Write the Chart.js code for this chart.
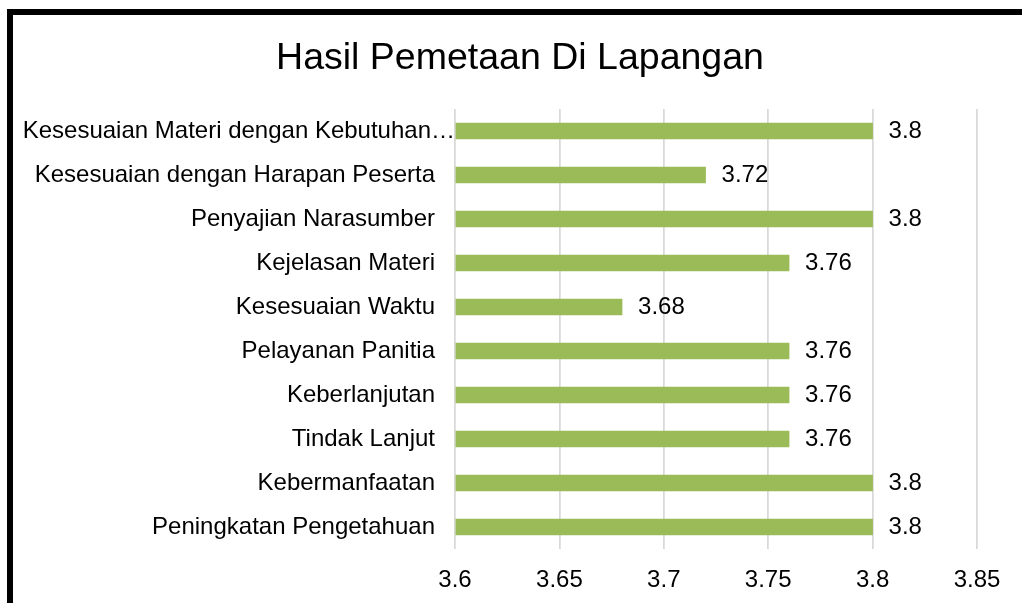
<!DOCTYPE html>
<html>
<head>
<meta charset="utf-8">
<script src="https://cdn.jsdelivr.net/npm/chart.js@4/dist/chart.umd.min.js"></script>
<style>
  html, body { margin: 0; padding: 0; background: #fff; }
  #frame { position: absolute; left: 7px; top: 9px; width: 1040px; height: 640px; border: 6px solid #000; box-sizing: border-box; }
  #c { position: absolute; left: 0; top: 0; }
</style>
</head>
<body>
<div id="frame"></div>
<canvas id="c" width="1022" height="603"></canvas>
<script>
const categories = [
  "Kesesuaian Materi dengan Kebutuhan…",
  "Kesesuaian dengan Harapan Peserta",
  "Penyajian Narasumber",
  "Kejelasan Materi",
  "Kesesuaian Waktu",
  "Pelayanan Panitia",
  "Keberlanjutan",
  "Tindak Lanjut",
  "Kebermanfaatan",
  "Peningkatan Pengetahuan"
];
const values = [3.8, 3.72, 3.8, 3.76, 3.68, 3.76, 3.76, 3.76, 3.8, 3.8];
const xTicks = [3.6, 3.65, 3.7, 3.75, 3.8, 3.85];
const chartTitle = "Hasil Pemetaan Di Lapangan";

const FONT = "'Liberation Sans', Arial, sans-serif";

const labelPlugin = {
  id: 'customLabels',
  afterDatasetsDraw(chart) {
    const ctx = chart.ctx;
    const meta = chart.getDatasetMeta(0);
    const yScale = chart.scales.y;
    const left = chart.chartArea.left;
    ctx.save();
    ctx.font = "24px " + FONT;
    ctx.fillStyle = "#000";
    ctx.textBaseline = "middle";
    ctx.textAlign = "left";
    meta.data.forEach((bar, i) => {
      ctx.fillText(String(values[i]), bar.x + 16, bar.y);
    });
    ctx.textAlign = "right";
    categories.forEach((c, i) => {
      const y = yScale.getPixelForValue(i);
      const x = c.endsWith("…") ? left : left - 20;
      ctx.fillText(c, x, y);
    });
    ctx.restore();
  }
};

new Chart(document.getElementById('c'), {
  type: 'bar',
  data: {
    labels: categories,
    datasets: [{
      data: values,
      base: 3.6,
      backgroundColor: '#9BBB59',
      borderWidth: 0,
      barThickness: 16
    }]
  },
  options: {
    indexAxis: 'y',
    responsive: false,
    animation: false,
    layout: { padding: { left: 63, right: 45, top: 0, bottom: 0 } },
    plugins: {
      legend: { display: false },
      tooltip: { enabled: false },
      title: {
        display: true,
        text: chartTitle,
        color: '#000',
        font: { family: FONT, size: 37.5, weight: 'normal' },
        padding: { top: 36, bottom: 28 }
      }
    },
    scales: {
      x: {
        min: 3.6,
        max: 3.85,
        afterBuildTicks(scale) { scale.ticks = xTicks.map(v => ({ value: v })); },
        afterFit(scale) { scale.height = 54; },
        border: { display: false },
        grid: { color: '#d9d9d9', lineWidth: 1.75, drawTicks: false },
        ticks: {
          color: '#000',
          font: { family: FONT, size: 24 },
          padding: 17,
          maxRotation: 0,
          callback: v => String(Number(v.toFixed(2)))
        }
      },
      y: {
        border: { display: false },
        grid: { display: false, drawTicks: false },
        ticks: { display: false },
        afterFit(scale) { scale.width = 392; }
      }
    }
  },
  plugins: [labelPlugin]
});
</script>
</body>
</html>
